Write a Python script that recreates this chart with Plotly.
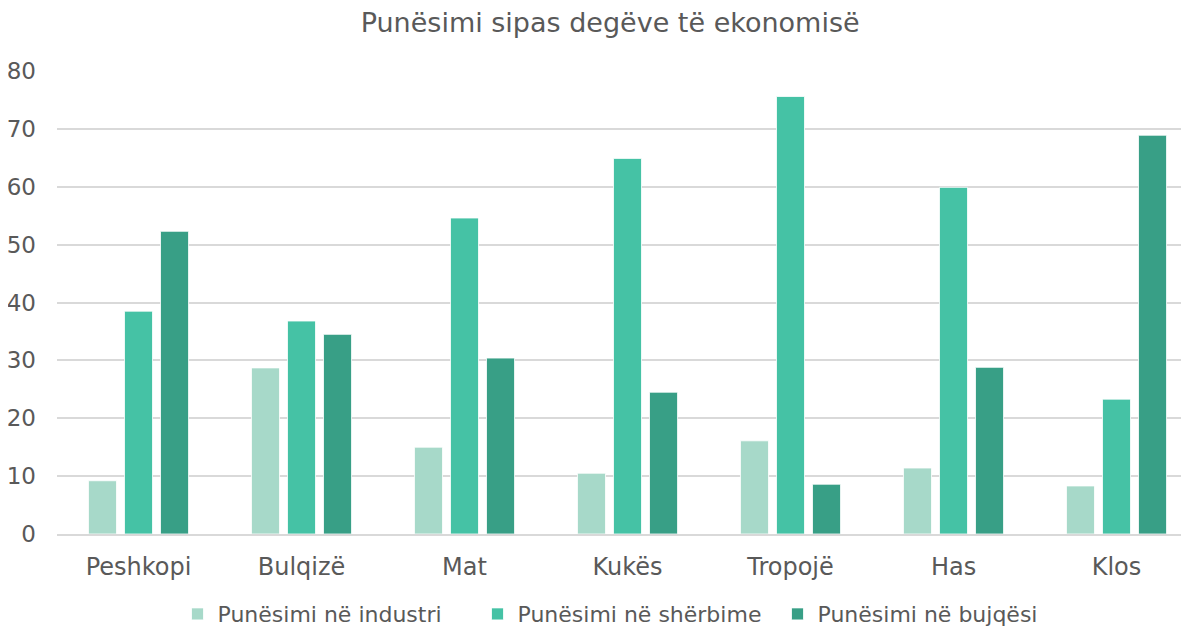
import plotly.graph_objects as go

categories = ["Peshkopi", "Bulqizë", "Mat", "Kukës", "Tropojë", "Has", "Klos"]
industri = [9.2, 28.7, 15.0, 10.5, 16.1, 11.4, 8.3]
sherbime = [38.5, 36.8, 54.6, 64.9, 75.6, 59.9, 23.3]
bujqesi = [52.3, 34.5, 30.4, 24.5, 8.6, 28.8, 68.9]

series_names = ["Punësimi në industri", "Punësimi në shërbime", "Punësimi në bujqësi"]
colors = ["#A7D9C9", "#45C2A5", "#389F86"]

fig = go.Figure()
for name, vals, col in zip(series_names, [industri, sherbime, bujqesi], colors):
    fig.add_trace(go.Bar(x=categories, y=vals, name=name, marker_color=col,
                         marker_line_color="white", marker_line_width=0.8))

font = "Century Gothic, DejaVu Sans, sans-serif"
grey = "#595959"
fig.update_layout(
    width=1190, height=620,
    paper_bgcolor="white", plot_bgcolor="white",
    margin=dict(l=49, r=0, t=63, b=94, autoexpand=False),
    barmode="group", bargap=0.337, bargroupgap=0.222,
    title=dict(text="Punësimi sipas degëve të ekonomisë", x=0.506, xanchor="center",
               xref="container", yref="container",
               y=0.977, yanchor="middle", font=dict(family=font, size=27, color=grey)),
    font=dict(family=font, size=22, color=grey),
    legend=dict(orientation="h", x=0.5, xanchor="center", y=-0.173, yanchor="middle",
                font=dict(family=font, size=22, color=grey), itemwidth=30,
                entrywidth=255, entrywidthmode="pixels",
                traceorder="normal"),
    showlegend=True,
)
fig.update_yaxes(range=[0, 80], dtick=10, showgrid=True, gridcolor="#D9D9D9", gridwidth=1.5,
                 zeroline=False, showline=False, ticks="", ticklabelstandoff=20,
                 tickfont=dict(family=font, size=23, color=grey))
fig.update_xaxes(showline=True, linecolor="#D9D9D9", linewidth=1.5, ticks="",
                 ticklabelstandoff=10,
                 tickfont=dict(family=font, size=24, color=grey))

fig.write_html("out.html")
